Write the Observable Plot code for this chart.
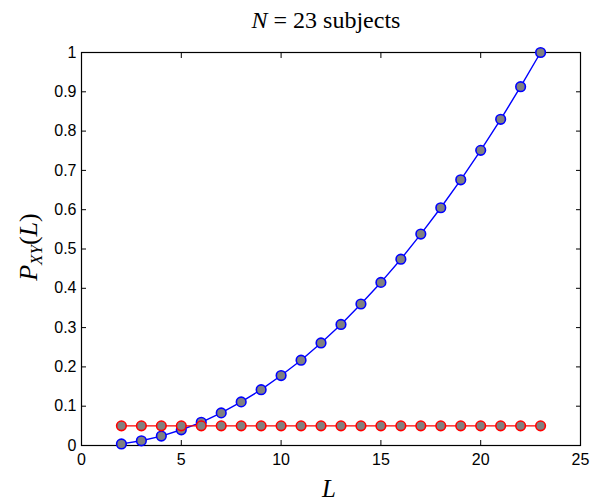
<!DOCTYPE html>
<html>
<head>
<meta charset="utf-8">
<script src="https://cdn.jsdelivr.net/npm/d3@7"></script>
<script src="https://cdn.jsdelivr.net/npm/@observablehq/plot@0.6"></script>
<style>
  html, body { margin: 0; padding: 0; background: #fff; }
  #chart { width: 590px; height: 504px; }
</style>
</head>
<body>
<div id="chart"></div>
<script>
const L = [2,3,4,5,6,7,8,9,10,11,12,13,14,15,16,17,18,19,20,21,22,23];
const pBlue = [0.004,0.012,0.024,0.040,0.059,0.083,0.111,0.142,0.178,0.217,0.261,0.308,0.360,0.415,0.474,0.538,0.605,0.676,0.751,0.830,0.913,1.000];
const pRed = [0.05,0.05,0.05,0.05,0.05,0.05,0.05,0.05,0.05,0.05,0.05,0.05,0.05,0.05,0.05,0.05,0.05,0.05,0.05,0.05,0.05,0.05];
const xTicks = [0,5,10,15,20,25];
const yTicks = [0,0.1,0.2,0.3,0.4,0.5,0.6,0.7,0.8,0.9,1];
const titleText = "subjects";

const blue = L.map((l,i) => ({L: l, p: pBlue[i]}));
const red = L.map((l,i) => ({L: l, p: pRed[i]}));

const fmtY = d => String(d);

const plot = Plot.plot({
  width: 590,
  height: 504,
  marginLeft: 81,
  marginRight: 10,
  marginTop: 52,
  marginBottom: 59,
  style: {fontFamily: "'Liberation Sans', Arial, sans-serif", fontSize: "16px", color: "#000", background: "#fff"},
  x: {domain: [0, 25]},
  y: {domain: [0, 1]},
  marks: [
    Plot.axisX(xTicks, {anchor: "bottom", tickSize: -5, tickPadding: 13, label: null, tickFormat: d => String(d), fontSize: 16}),
    Plot.axisX(xTicks, {anchor: "top", tickSize: -5, label: null, tickFormat: () => ""}),
    Plot.axisY(yTicks, {anchor: "left", tickSize: -5, tickPadding: 10, label: null, tickFormat: fmtY, fontSize: 16}),
    Plot.axisY(yTicks, {anchor: "right", tickSize: -5, label: null, tickFormat: () => ""}),
    Plot.frame({stroke: "#000", strokeWidth: 1.2}),
    Plot.line(blue, {x: "L", y: "p", stroke: "#0000ff", strokeWidth: 1.4}),
    Plot.dot(blue, {x: "L", y: "p", r: 4.8, fill: "#808080", stroke: "#0000ff", strokeWidth: 1.6}),
    Plot.line(red, {x: "L", y: "p", stroke: "#ff0000", strokeWidth: 1.4}),
    Plot.dot(red, {x: "L", y: "p", r: 4.8, fill: "#808080", stroke: "#ff0000", strokeWidth: 1.6})
  ]
});
document.getElementById("chart").appendChild(plot);

const svg = d3.select(plot);
const serif = "'Liberation Serif', 'DejaVu Serif', serif";
// Title
const t = svg.append("text")
  .attr("x", 326).attr("y", 28)
  .attr("text-anchor", "middle")
  .attr("font-family", serif).attr("font-size", 24).attr("fill", "#000");
t.append("tspan").attr("font-style", "italic").text("N");
t.append("tspan").attr("dx", 6).text("=");
t.append("tspan").attr("dx", 6).text("23");
t.append("tspan").attr("dx", 6).text(titleText);

// X label
svg.append("text")
  .attr("x", 329).attr("y", 497)
  .attr("text-anchor", "middle")
  .attr("font-family", serif).attr("font-size", 25).attr("font-style", "italic").attr("fill", "#000")
  .text("L");

// Y label
const yl = svg.append("text")
  .attr("transform", "translate(37,247) rotate(-90)")
  .attr("text-anchor", "middle")
  .attr("font-family", serif).attr("font-size", 26).attr("fill", "#000");
yl.append("tspan").attr("font-style", "italic").text("P");
yl.append("tspan").attr("font-style", "italic").attr("font-size", 17).attr("dy", 5).text("XY");
yl.append("tspan").attr("dy", -5).text("(");
yl.append("tspan").attr("font-style", "italic").text("L");
yl.append("tspan").text(")");
</script>
</body>
</html>
